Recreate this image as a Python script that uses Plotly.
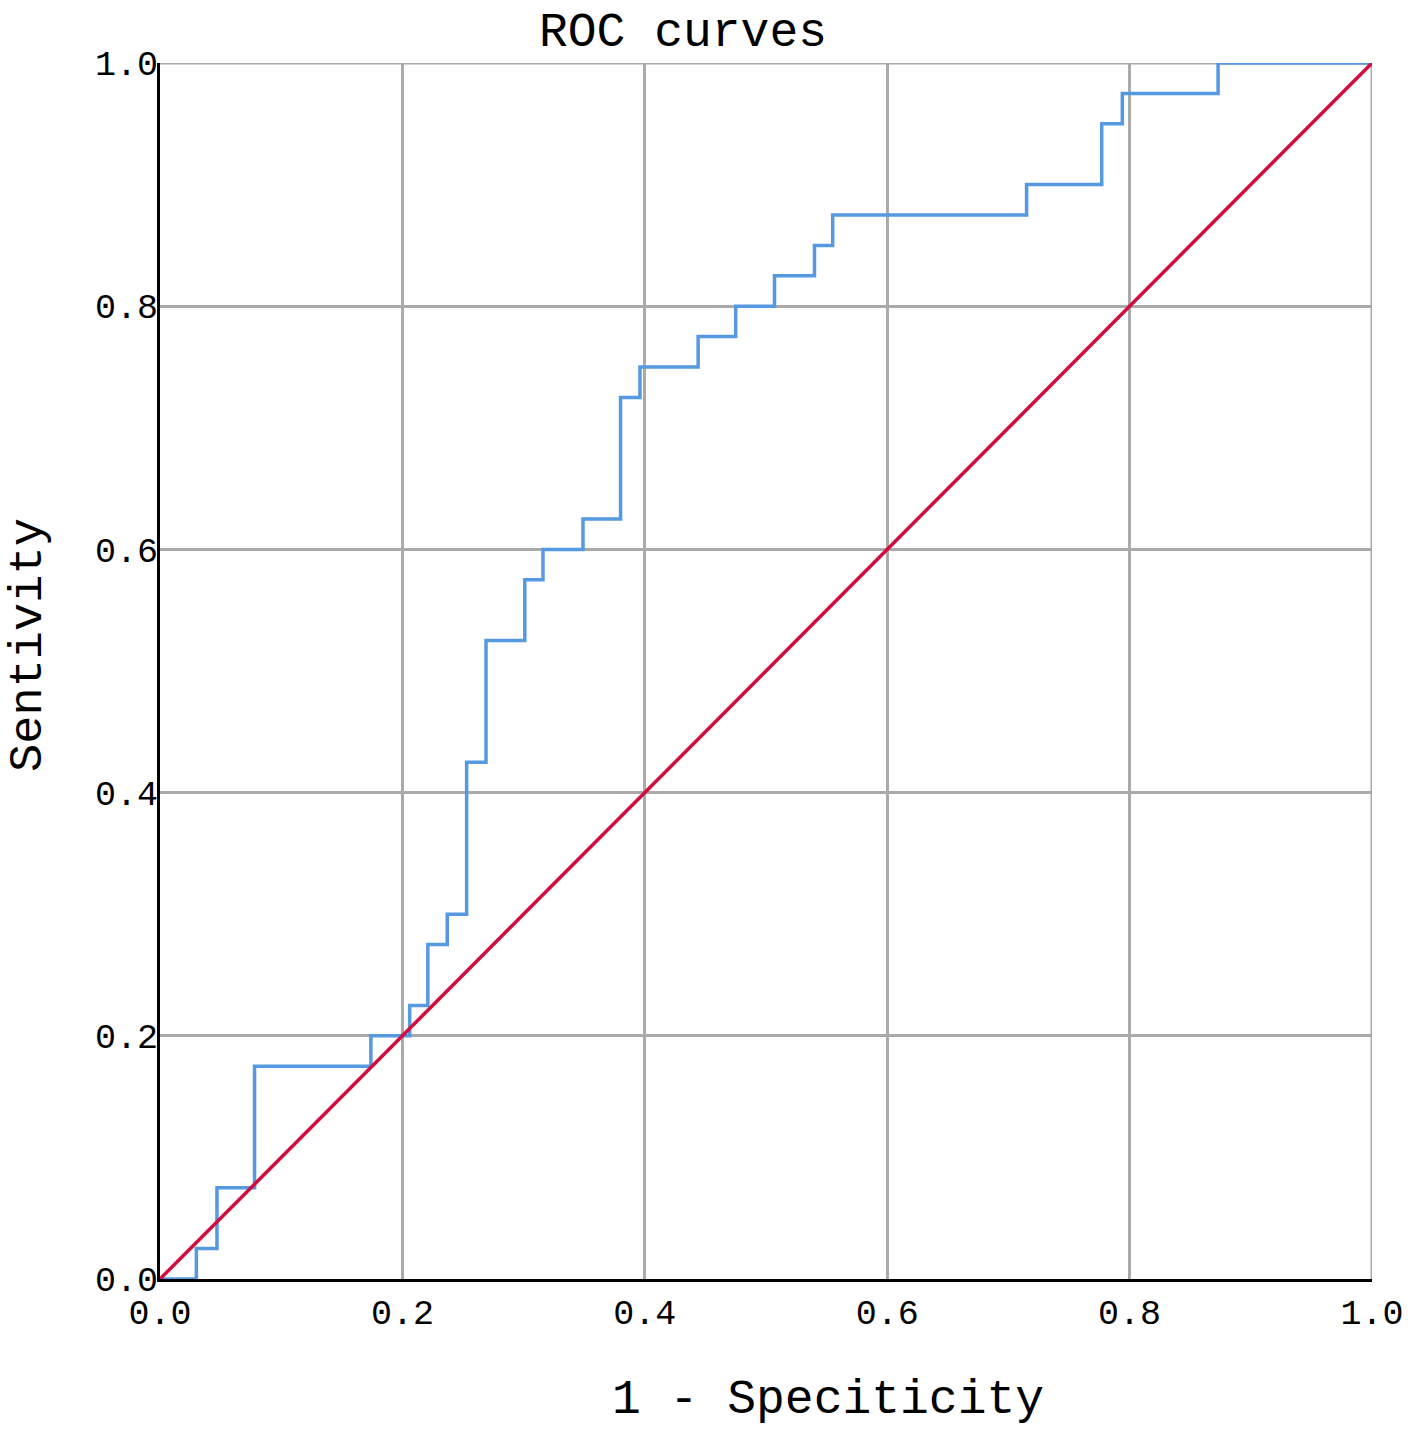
import plotly.graph_objects as go

# ROC step curve (1 - specificity, sensitivity)
fpr = [0.0, 0.030, 0.030, 0.047, 0.047, 0.078, 0.078, 0.174, 0.174, 0.206, 0.206,
       0.221, 0.221, 0.237, 0.237, 0.253, 0.253, 0.269, 0.269, 0.301, 0.301,
       0.316, 0.316, 0.349, 0.349, 0.380, 0.380, 0.396, 0.396, 0.444, 0.444,
       0.475, 0.475, 0.507, 0.507, 0.540, 0.540, 0.555, 0.555, 0.715, 0.715,
       0.777, 0.777, 0.794, 0.794, 0.873, 0.873, 1.0]
tpr = [0.0, 0.0, 0.025, 0.025, 0.075, 0.075, 0.175, 0.175, 0.200, 0.200, 0.225,
       0.225, 0.275, 0.275, 0.300, 0.300, 0.425, 0.425, 0.525, 0.525, 0.575,
       0.575, 0.600, 0.600, 0.625, 0.625, 0.725, 0.725, 0.750, 0.750, 0.775,
       0.775, 0.800, 0.800, 0.825, 0.825, 0.850, 0.850, 0.875, 0.875, 0.900,
       0.900, 0.950, 0.950, 0.975, 0.975, 1.0, 1.0]

ref_x = [0.0, 1.0]
ref_y = [0.0, 1.0]

tick_vals = [0.0, 0.2, 0.4, 0.6, 0.8, 1.0]
tick_text = ["0.0", "0.2", "0.4", "0.6", "0.8", "1.0"]

FONT = "Liberation Mono, DejaVu Sans Mono, monospace"
GRID = "#aaaaaa"

fig = go.Figure()
fig.add_trace(go.Scatter(x=fpr, y=tpr, mode="lines",
                         line=dict(color="#5599e0", width=3.5),
                         cliponaxis=False, showlegend=False))
fig.add_trace(go.Scatter(x=ref_x, y=ref_y, mode="lines",
                         line=dict(color="#d20c3c", width=3.5),
                         cliponaxis=False, showlegend=False))

# gridlines on the far edges (plotly omits them at the range limits)
fig.add_shape(type="line", xref="x", yref="paper", x0=1, x1=1, y0=0, y1=1,
              line=dict(color=GRID, width=3), layer="below")
fig.add_shape(type="line", xref="paper", yref="y", x0=0, x1=1, y0=1, y1=1,
              line=dict(color=GRID, width=3), layer="below")

fig.add_annotation(text="1 - Speciticity", xref="paper", yref="paper",
                   x=0.551, y=0, yshift=-121, xanchor="center", yanchor="middle",
                   showarrow=False, font=dict(family=FONT, size=48, color="black"))
fig.add_annotation(text="Sentivity", xref="paper", yref="paper", textangle=-90,
                   x=0, xshift=-131, y=0.5214, xanchor="center", yanchor="middle",
                   showarrow=False, font=dict(family=FONT, size=47, color="black"))

fig.update_layout(
    width=1416, height=1433,
    margin=dict(l=160, r=40, t=63, b=154),
    paper_bgcolor="white", plot_bgcolor="white",
    font=dict(family=FONT, color="black"),
    title=dict(text="ROC curves", x=683 / 1416, xanchor="center", xref="container",
               y=1 - 29 / 1433, yanchor="middle", yref="container",
               font=dict(family=FONT, size=48, color="black")),
    xaxis=dict(range=[0, 1], tickvals=tick_vals, ticktext=tick_text,
               showgrid=True, gridcolor=GRID, gridwidth=3,
               showline=True, linecolor="black", linewidth=3,
               zeroline=False, ticks="", tickfont=dict(family=FONT, size=35)),
    yaxis=dict(range=[0, 1], tickvals=tick_vals, ticktext=tick_text,
               showgrid=True, gridcolor=GRID, gridwidth=3,
               showline=True, linecolor="black", linewidth=3,
               zeroline=False, ticks="", ticklabelstandoff=-8,
               tickfont=dict(family=FONT, size=35)),
)

fig.write_html("out.html", config={"displayModeBar": False},
               post_script="document.body.style.margin='0';document.body.style.overflow='hidden';")
